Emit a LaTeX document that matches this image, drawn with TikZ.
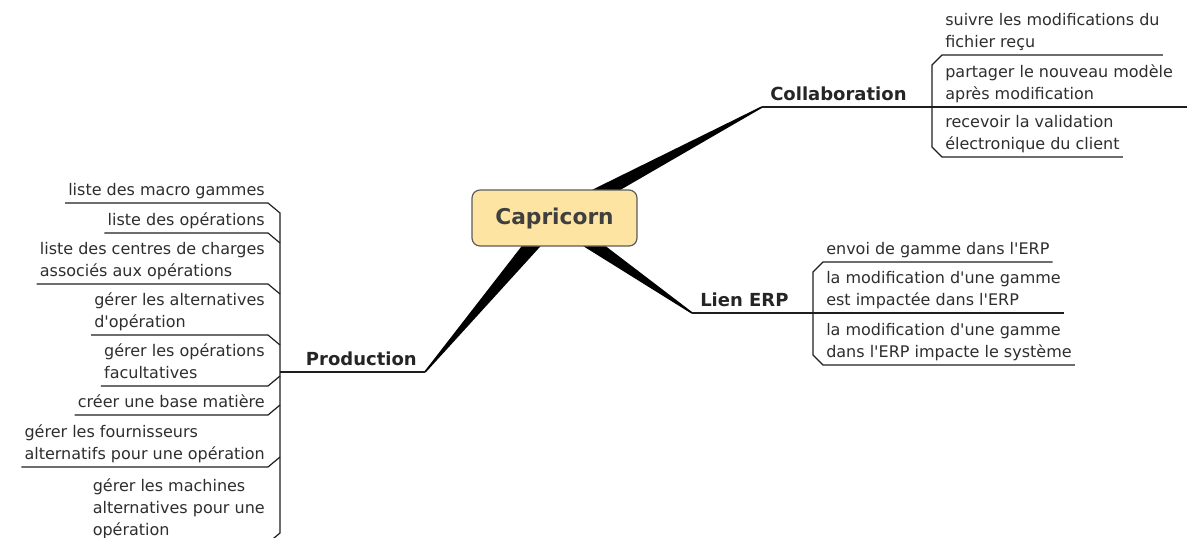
\documentclass[tikz,border=0pt]{standalone}
\usepackage{fontspec}
\setmainfont{DejaVu Sans}
\usetikzlibrary{calc, positioning, backgrounds}
\definecolor{mroot}{HTML}{FDE4A2}
\definecolor{mrootline}{HTML}{5C5C5C}
\definecolor{mroottext}{HTML}{3F3F3F}
\definecolor{mtext}{HTML}{2E2E2E}
\definecolor{mline}{HTML}{1E1E1E}
\newcommand{\apos}{\textquotesingle}
\tikzset{
  rootbox/.style={draw=mrootline, fill=mroot, rounded corners=6pt, line width=0.9pt,
                  minimum width=123.75pt, minimum height=42pt, text=mroottext,
                  font=\fontsize{16.3pt}{19pt}\selectfont\bfseries},
  topic/.style={font=\fontsize{13.5pt}{16pt}\selectfont\bfseries, text=mtext!80!black,
                inner xsep=6pt, inner ysep=4.5pt},
  leaf/.style={font=\fontsize{12pt}{16.5pt}\selectfont, text=mtext, align=left,
               inner xsep=2.25pt, inner ysep=2.5pt, text depth=3pt},
  link/.style={draw=mline, line width=0.9pt, line join=miter},
  branch/.style={fill=black},
}

\begin{document}
\begin{tikzpicture}[x=0.75pt, y=-0.75pt]
  \useasboundingbox (0,0) rectangle (1187,537);

  %% ── Root ──
  \node[rootbox] (root) at (554.5,218) {Capricorn};

  %% ── Collaboration (upper right) ──
  \node[topic, anchor=south west] (collab) at (762,107) {Collaboration};
  \node[leaf, anchor=south west] (collab1) at (942,55) {suivre les modifications du\\fichier reçu};
  \node[leaf, anchor=south west] (collab2) at (942,107) {partager le nouveau modèle\\après modification};
  \node[leaf, anchor=south west] (collab3) at (942,157) {recevoir la validation\\électronique du client};

  \draw[link] (collab.south west) -- ($(collab2.south east)+(12,0)$);
  \draw[link] (collab1.south east) -- (collab1.south west) -- ++(-10,10)
    -- ($(collab3.south west)+(-10,-10)$) -- (collab3.south west) -- (collab3.south east);

  %% ── Lien ERP (right) ──
  \node[topic, anchor=south west] (erp) at (692,313) {Lien ERP};
  \node[leaf, anchor=south west] (erp1) at (823,262) {envoi de gamme dans l\apos ERP};
  \node[leaf, anchor=south west] (erp2) at (823,313) {la modification d\apos une gamme\\est impactée dans l\apos ERP};
  \node[leaf, anchor=south west] (erp3) at (823,365) {la modification d\apos une gamme\\dans l\apos ERP impacte le système};

  \draw[link] (erp.south west) -- (erp2.south east);
  \draw[link] (erp1.south east) -- (erp1.south west) -- ++(-10,10)
    -- ($(erp3.south west)+(-10,-10)$) -- (erp3.south west) -- (erp3.south east);

  %% ── Production (left) ──
  \node[topic, anchor=south east] (prod) at (425,372) {Production};
  \coordinate (prodbar) at (280,372);
  \node[leaf, anchor=south east] (prod1) at (268,203) {liste des macro gammes};
  \node[leaf, anchor=south east] (prod2) at (268,233) {liste des opérations};
  \node[leaf, anchor=south east] (prod3) at (268,284) {liste des centres de charges\\associés aux opérations};
  \node[leaf, anchor=south east] (prod4) at (268,335) {gérer les alternatives\\d\apos opération};
  \node[leaf, anchor=south east] (prod5) at (268,386) {gérer les opérations\\facultatives};
  \node[leaf, anchor=south east] (prod6) at (268,415) {créer une base matière};
  \node[leaf, anchor=south east] (prod7) at (268,467) {gérer les fournisseurs\\alternatifs pour une opération};
  \node[leaf, anchor=south east] (prod8) at (268,543) {gérer les machines\\alternatives pour une\\opération};

  \draw[link] (prod.south east) -- (prodbar);
  \draw[link] (prod1.south west) -- (prod1.south east) -- ++(12,10)
    -- ($(prod8.south east)+(12,-10)$) -- (prod8.south east) -- (prod8.south west);
  \foreach \n/\d in {2/10, 3/10, 4/10, 5/-10, 6/-10, 7/-10}
    \draw[link] (prod\n.south west) -- (prod\n.south east) -- ++(12,\d);

  %% ── Tapered branches ──
  \begin{scope}[on background layer]
    \foreach \t in {collab.south west, erp.south west, prod.south east}
      \fill[branch] ($(root.center)!6.5pt!90:(\t)$) -- ($(\t)!0.6pt!-90:(root.center)$)
        -- ($(\t)!0.6pt!90:(root.center)$) -- ($(root.center)!6.5pt!-90:(\t)$) -- cycle;
  \end{scope}
\end{tikzpicture}
\end{document}
